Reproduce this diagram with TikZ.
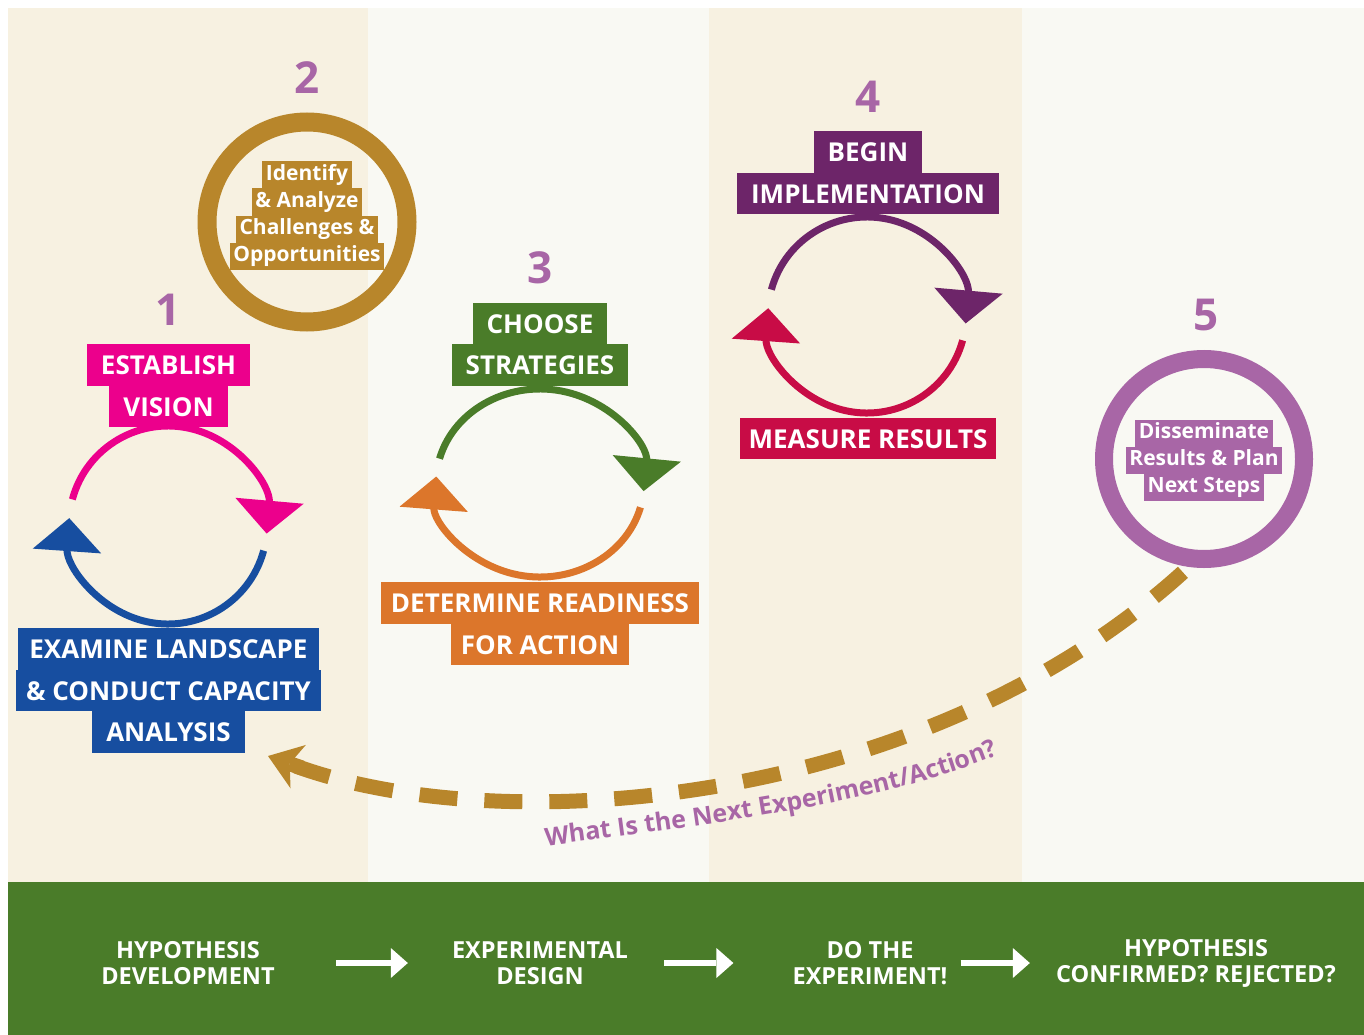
\documentclass[tikz,border=0pt]{standalone}
\usepackage{fontspec}
\setmainfont{Open Sans}
\usepackage{tikz}
\usetikzlibrary{arrows.meta,decorations.text,positioning}
\definecolor{bgbeige}{HTML}{F7F1E1}
\definecolor{bglight}{HTML}{F9F9F3}
\definecolor{gold}{HTML}{B8862B}
\definecolor{vispink}{HTML}{EC008C}
\definecolor{landblue}{HTML}{174EA0}
\definecolor{leafgreen}{HTML}{4A7C29}
\definecolor{readyorange}{HTML}{DC762B}
\definecolor{implpurple}{HTML}{6D2569}
\definecolor{resultred}{HTML}{C80C46}
\definecolor{lavender}{HTML}{A866A6}
\tikzset{
  boxlabel/.style={font=\bfseries\fontsize{26}{26}\selectfont, text=white, inner xsep=14pt, inner ysep=0pt,
    text height=19pt, text depth=0pt, minimum height=41.5pt, outer sep=0pt},
  ringlabel/.style={font=\bfseries\fontsize{21}{21}\selectfont, text=white, fill=#1, inner xsep=3.5pt, inner ysep=0pt,
    text height=15.5pt, text depth=5pt, minimum height=27pt, outer sep=0pt},
  ring/.style={circle, draw=#1, minimum size=200pt, inner sep=0pt},
  stepnum/.style={font=\bfseries\fontsize{44}{44}\selectfont, text=lavender},
  looparc/.style={line width=7pt, -{Triangle[length=33pt,width=67pt]}},
  bandtext/.style={font=\bfseries\fontsize{23.5}{26}\selectfont, text=white, align=center, inner sep=0pt},
  bandarrow/.style={white, line width=6pt, -{Triangle[length=17pt,width=30pt,line width=0pt]}},
  loopback/.style={gold, line width=15pt, dash pattern=on 38pt off 27pt},
  loophead/.style={gold, line width=15pt, -{Stealth[length=32pt,width=46pt,inset=9pt,line width=0pt]}}
}
\begin{document}
\begin{tikzpicture}[x=1pt,y=-1pt]
\useasboundingbox (0,0) rectangle (1364,1035);
\fill[white] (0,0) rectangle (1364,1035);
% phase columns and bottom band
\fill[bgbeige] (8,8) rectangle (368,883);
\fill[bglight] (368,8) rectangle (709,883);
\fill[bgbeige] (709,8) rectangle (1022,883);
\fill[bglight] (1022,8) rectangle (1364,883);
\fill[leafgreen] (8,882) rectangle (1364,1035);

% cycles 1, 3 and 4
\foreach \cx/\cy/\rx/\ry/\topcol/\botcol in {168/525/99/99/vispink/landblue, 540/483/104/94/leafgreen/readyorange, 867/315/99/98/implpurple/resultred}{
  \draw[looparc,\topcol] (\cx,\cy) ++({\rx*cos(195)},{\ry*sin(195)}) arc[start angle=195, end angle=365, x radius=\rx, y radius=\ry];
  \draw[looparc,\botcol] (\cx,\cy) ++({\rx*cos(15)},{\ry*sin(15)}) arc[start angle=15, end angle=184, x radius=\rx, y radius=\ry];
}

\node[stepnum] (num1) at (168,310) {1};
\node[boxlabel, fill=vispink] (vision1) at (168.5,365) {ESTABLISH};
\node[boxlabel, fill=vispink, below=0pt of vision1] (vision2) {VISION};
\node[boxlabel, fill=landblue, inner xsep=10pt, minimum width=301pt] (land1) at (168.5,649) {EXAMINE LANDSCAPE};
\node[boxlabel, fill=landblue, inner xsep=10pt, minimum width=301pt, below=0pt of land1] (land2) {\&~CONDUCT CAPACITY};
\node[boxlabel, fill=landblue, below=0pt of land2] (land3) {ANALYSIS};

\node[stepnum] (num2) at (307,78) {2};
\node[ring=gold, line width=19pt] (c2) at (307,222) {};
\node[ringlabel=gold] (chal1) at (307,175) {Identify};
\node[ringlabel=gold, below=0pt of chal1] (chal2) {\&~Analyze};
\node[ringlabel=gold, below=0pt of chal2] (chal3) {Challenges \&};
\node[ringlabel=gold, below=0pt of chal3] (chal4) {Opportunities};

\node[stepnum] (num3) at (540,268) {3};
\node[boxlabel, fill=leafgreen] (strat1) at (540,323.5) {CHOOSE};
\node[boxlabel, fill=leafgreen, below=0pt of strat1] (strat2) {STRATEGIES};
\node[boxlabel, fill=readyorange, inner xsep=10pt] (ready1) at (540,603) {DETERMINE READINESS};
\node[boxlabel, fill=readyorange, inner xsep=10pt, below=0pt of ready1] (ready2) {FOR ACTION};

\node[stepnum] (num4) at (868,97) {4};
\node[boxlabel, fill=implpurple] (impl1) at (868,152) {BEGIN};
\node[boxlabel, fill=implpurple, below=0pt of impl1] (impl2) {IMPLEMENTATION};
\node[boxlabel, fill=resultred, inner xsep=9pt] (meas) at (868,438.5) {MEASURE RESULTS};

\node[stepnum] (num5) at (1206,315) {5};
\node[ring=lavender, line width=18pt] (c5) at (1204,459) {};
\node[ringlabel=lavender] (diss1) at (1204,433) {Disseminate};
\node[ringlabel=lavender, below=0pt of diss1] (diss2) {Results \& Plan};
\node[ringlabel=lavender, below=0pt of diss2] (diss3) {Next Steps};

% back to the start
\coordinate (nextstep) at (268,756);
\draw[loopback, shorten <=8pt, shorten >=30pt] (c5.262) .. controls (920,810) and (500,840) .. (nextstep);
\draw[loophead] (nextstep) ++(34,12) -- (nextstep);
\path[decorate, decoration={text along path, text align=left,
  text={|\bfseries\fontsize{25}{25}\selectfont\color{lavender}|What Is the Next Experiment/Action?}}]
  (546,846) .. controls (700,825) and (880,806) .. (1005,752) -- (1070,724);

% bottom band
\node[bandtext] (hyp) at (188,963) {HYPOTHESIS\\DEVELOPMENT};
\node[bandtext] (design) at (540,963) {EXPERIMENTAL\\DESIGN};
\node[bandtext] (doit) at (870,963) {DO THE\\EXPERIMENT!};
\node[bandtext] (verdict) at (1196,963) {HYPOTHESIS\\CONFIRMED? REJECTED?};
\draw[bandarrow, shorten <=61pt, shorten >=44pt] (hyp.east) -- (design.west);
\draw[bandarrow, shorten <=36pt, shorten >=59pt] (design.east) -- (doit.west);
\draw[bandarrow, shorten <=13pt, shorten >=26pt] (doit.east) -- (verdict.west);
\end{tikzpicture}
\end{document}
